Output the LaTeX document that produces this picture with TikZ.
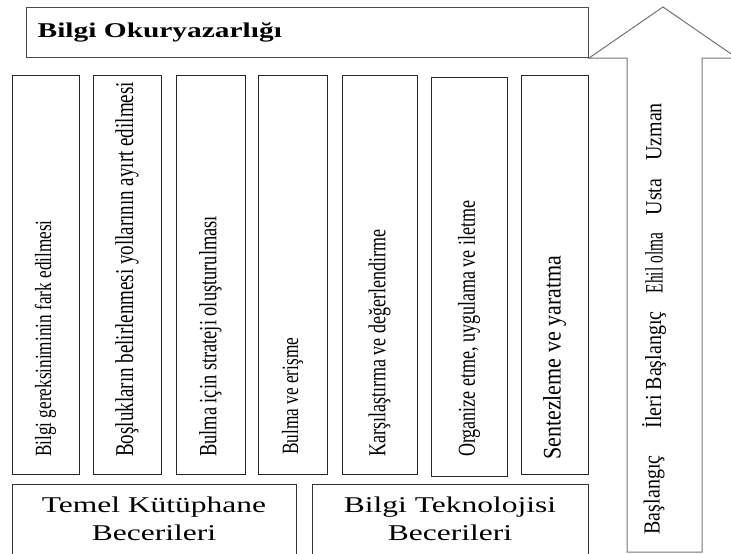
\documentclass[tikz,border=0pt]{standalone}
\usepackage{fontspec}
\setmainfont{Liberation Serif}
\usepackage{graphicx}
\usetikzlibrary{positioning}
\tikzstyle{titlebox} = [rectangle, draw=black!70, line width=1pt,
minimum width=562pt, minimum height=50pt, inner sep=0pt]
\tikzstyle{column} = [rectangle, draw=black!85, line width=1pt,
minimum height=399pt, inner sep=0pt, outer sep=0pt]
\tikzstyle{coltext} = [rotate=90, anchor=west, inner sep=0pt]
\tikzstyle{basebox} = [rectangle, draw=black!80, line width=1pt,
minimum height=72pt, inner sep=0pt, outer sep=0pt]
\tikzstyle{basetext} = [anchor=north, align=center, inner sep=0pt,
font=\fontsize{22.5}{28}\selectfont]
\tikzstyle{level} = [rotate=90, inner sep=0pt, font=\fontsize{20}{20}\selectfont]
\tikzstyle{arrowline} = [draw=black!55, line width=1pt, line join=miter]
\newcommand{\wide}[1]{\scalebox{1.4}[1]{#1}}
\newcommand{\tall}[1]{\scalebox{1}[1.35]{#1}}
\newcommand{\lvl}[1]{\scalebox{1}[1.15]{#1}}

\begin{document}
\begin{tikzpicture}[x=1pt, y=-1pt]
  \clip (0,0) rectangle (731,554);
  % level arrow
  \draw[arrowline] (627,552) -- (627,58) -- (589,58) -- (663,7)
    -- (737,58) -- (702,58) -- (702,552) -- cycle;
  % title
  \node[titlebox] (title) at (307,32) {};
  \node[anchor=west, inner sep=0pt, font=\fontsize{21}{21}\selectfont\bfseries]
    (titletext) at ([xshift=12pt]title.west) {\wide{Bilgi Okuryazarlığı}};
  % columns
  \node[column, minimum width=67pt]                 (c1) at (45.5,274.5) {};
  \node[column, minimum width=68pt, right=14pt of c1] (c2) {};
  \node[column, minimum width=69pt, right=15pt of c2] (c3) {};
  \node[column, minimum width=69pt, right=13pt of c3] (c4) {};
  \node[column, minimum width=75pt, right=15pt of c4] (c5) {};
  \node[column, minimum width=76pt, right=14pt of c5, yshift=-2pt] (c6) {};
  \node[column, minimum width=67pt, right=14pt of c6, yshift=2pt] (c7) {};
  % column texts
  \node[coltext, font=\fontsize{17.2}{20}\selectfont] (t1) at ([yshift=17pt]c1.south)
    {\tall{Bilgi gereksiniminin fark edilmesi}};
  \node[coltext, font=\fontsize{19}{20}\selectfont] (t2) at ([yshift=17pt]c2.south)
    {\tall{Boşlukların belirlenmesi yollarının ayırt edilmesi}};
  \node[coltext, font=\fontsize{18.4}{20}\selectfont] (t3) at ([yshift=17pt]c3.south)
    {\tall{Bulma için strateji oluşturulması}};
  \node[coltext, font=\fontsize{17.3}{20}\selectfont] (t4) at ([yshift=19pt]c4.south)
    {\tall{Bulma ve erişme}};
  \node[coltext, font=\fontsize{18}{20}\selectfont] (t5) at ([yshift=17pt]c5.south)
    {\tall{Karşılaştırma ve değerlendirme}};
  \node[coltext, font=\fontsize{18}{20}\selectfont] (t6) at ([yshift=19pt]c6.south)
    {\tall{Organize etme, uygulama ve iletme}};
  \node[coltext, font=\fontsize{22}{22}\selectfont] (t7) at ([yshift=14pt]c7.south)
    {\lvl{Sentezleme ve yaratma}};
  % skill boxes
  \node[basebox, minimum width=284pt] (temel) at (154,520) {};
  \node[basebox, minimum width=276pt, right=16pt of temel] (bt) {};
  \node[basetext] (temeltext) at ([yshift=-12.6pt]temel.north)
    {\wide{Temel Kütüphane}\\\wide{Becerileri}};
  \node[basetext] (bttext) at ([yshift=-12.6pt]bt.north)
    {\wide{Bilgi Teknolojisi}\\\wide{Becerileri}};
  % levels
  \node[level] (l1) at (654,495) {\lvl{Başlangıç}};
  \node[level] (l2) at (654,370) {\lvl{İleri Başlangıç}};
  \node[level] (l3) at (654,263) {\scalebox{0.77}[1.25]{Ehil olma}};
  \node[level] (l4) at (654,197) {\lvl{Usta}};
  \node[level] (l5) at (654,132) {\lvl{Uzman}};
\end{tikzpicture}
\end{document}
